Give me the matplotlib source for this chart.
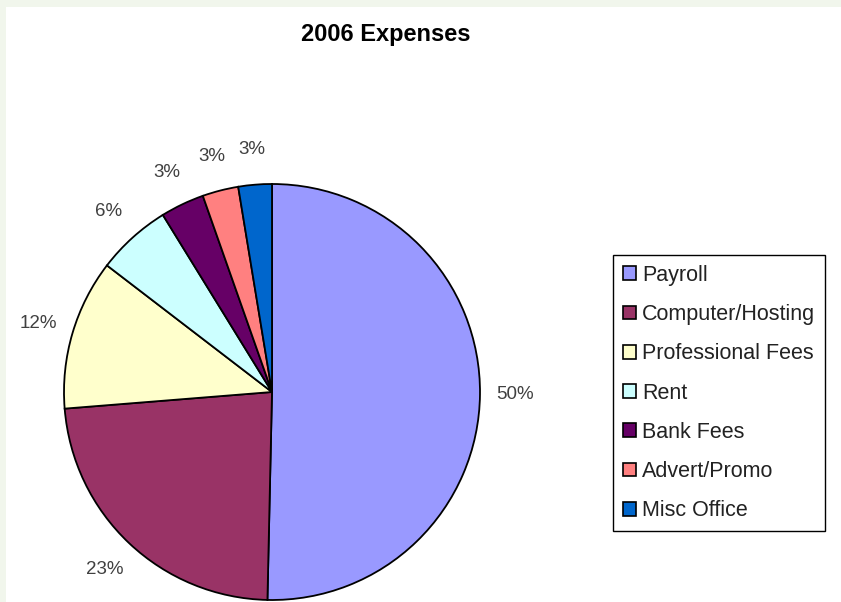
import matplotlib.pyplot as plt
from matplotlib.patches import Patch, Rectangle

categories = ["Payroll", "Computer/Hosting", "Professional Fees", "Rent",
              "Bank Fees", "Advert/Promo", "Misc Office"]
values = [50.4, 23.4, 11.7, 5.8, 3.4, 2.8, 2.6]
colors = ["#9999FF", "#993366", "#FFFFCC", "#CCFFFF",
          "#660066", "#FF8080", "#0066CC"]
title = "2006 Expenses"

plt.rcParams["font.family"] = ["Liberation Sans", "DejaVu Sans"]

W, H = 841, 602
fig = plt.figure(figsize=(W / 100, H / 100), dpi=100, facecolor="#F1F6EC")
# white chart area inside the pale green frame
fig.patches.append(Rectangle((6 / W, 0), 1, (H - 7) / H, transform=fig.transFigure,
                             facecolor="white", edgecolor="none", zorder=-5))

cx, cy, r = 272, H - 392, 208
half = 1.25 * r
ax = fig.add_axes([(cx - half) / W, (cy - half) / H, 2 * half / W, 2 * half / H])
ax.set_xlim(-1.25, 1.25)
ax.set_ylim(-1.25, 1.25)
ax.set_aspect("equal")
ax.axis("off")
ax.set_zorder(2)

wedges, texts, autotexts = ax.pie(
    values, colors=colors, startangle=90, counterclock=False,
    autopct="%.0f%%", pctdistance=1.17,
    wedgeprops=dict(edgecolor="black", linewidth=1.3),
    textprops=dict(fontsize=13.5, color="#404040"),
)
for w in wedges:
    w.set_clip_on(False)

fig.text(386 / W, 1 - 35 / H, title, ha="center", va="center",
         fontsize=17, fontweight="bold")

handles = [Patch(facecolor=c, edgecolor="black", linewidth=1.2) for c in colors]
leg = fig.legend(handles, categories, loc="upper left",
                 bbox_to_anchor=(613 / W, 1 - 255 / H),
                 fontsize=15.5, handlelength=0.6, handleheight=0.6,
                 handletextpad=0.3, labelspacing=0.85, borderpad=0.45,
                 fancybox=False, framealpha=1, edgecolor="black",
                 borderaxespad=0)
leg.get_frame().set_linewidth(1.0)
for t in leg.get_texts():
    t.set_color("#222222")

fig.savefig("out.png", dpi=100, facecolor=fig.get_facecolor())
